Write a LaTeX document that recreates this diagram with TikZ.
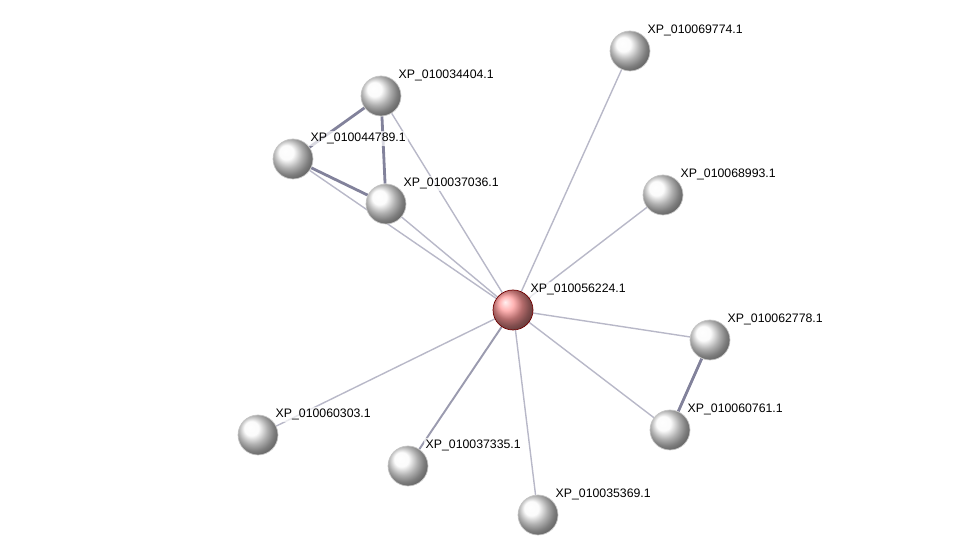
\documentclass[tikz,border=0pt]{standalone}
\usepackage{fontspec}
\setmainfont{Liberation Sans}
\usetikzlibrary{backgrounds}
\definecolor{linkgray}{RGB}{184,184,200}
\definecolor{linkdark}{RGB}{130,130,155}
\tikzset{
  protein/.style={
    shape = circle,
    inner sep = 0pt,
    minimum size = 0.8cm,
    draw = gray!45,
    shading = ball,
    ball color = gray!4
  },
  seed/.style={
    protein,
    draw = red!45!black,
    ball color = red!40
  },
  plabel/.style={
    inner sep = 1pt,
    label distance = 0pt,
    fill = white,
    fill opacity = 0.7,
    text opacity = 1,
    font = \fontsize{7}{8}\selectfont
  },
  link/.style={
    draw = linkgray,
    line width = 0.8pt
  },
  stronglink/.style={
    draw = linkdark,
    line width = 1.6pt
  }
}

\begin{document}
\begin{tikzpicture}[x=0.02cm,y=-0.02cm]
            \useasboundingbox (0,0) rectangle (975,560);
            \node[seed,label={[plabel]40:XP\_010056224.1}] (c) at (513,310) {};
            \foreach \i/\x/\y/\id in {1/630/51/010069774.1, 2/381/96/010034404.1,
                3/293/159/010044789.1, 4/386/204/010037036.1, 5/663/195/010068993.1,
                6/710/340/010062778.1, 7/670/430/010060761.1, 8/258/435/010060303.1,
                9/408/466/010037335.1, 10/538/515/010035369.1}{
                    \node[protein,label={[plabel]40:XP\_\id}] (p\i) at (\x,\y) {};
                }
            \begin{scope}[on background layer]
                \foreach \i in {1,...,8,10}{
                        \draw[link] (c) -- (p\i);
                    }
                \draw[link, draw=linkdark!80, line width=1.1pt] (c) -- (p9);
                \draw[stronglink] (p2) -- (p3);
                \draw[stronglink] (p2) -- (p4);
                \draw[stronglink] (p3) -- (p4);
                \draw[stronglink] (p6) -- (p7);
            \end{scope}
        \end{tikzpicture}
\end{document}
